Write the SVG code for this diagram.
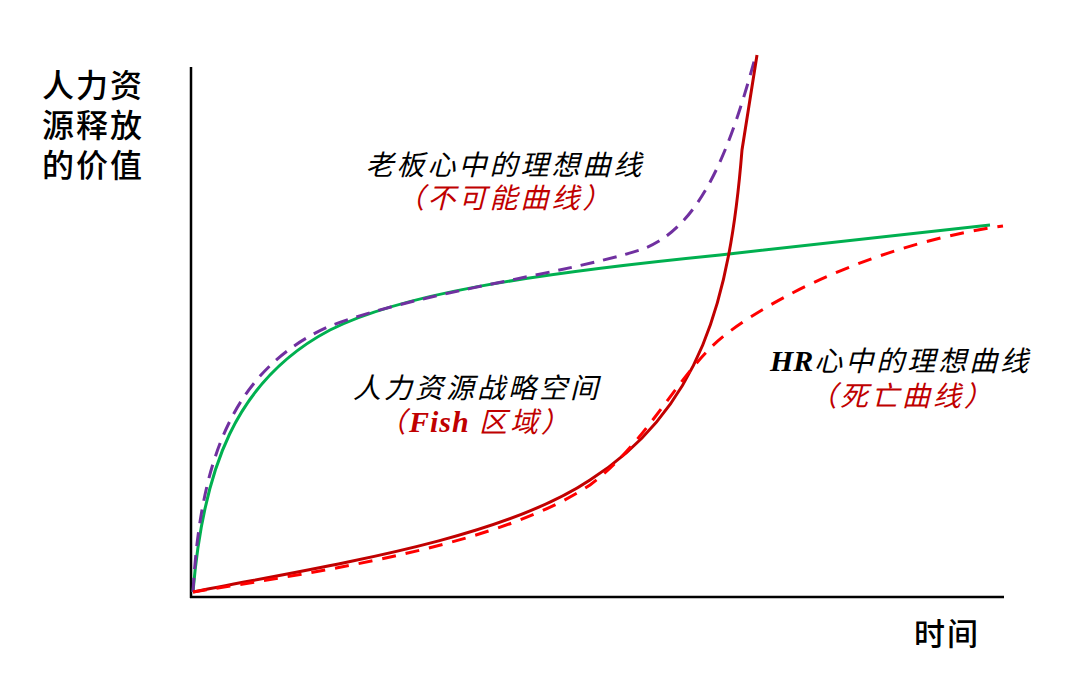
<svg xmlns="http://www.w3.org/2000/svg" width="1080" height="699" viewBox="0 0 1080 699">
<style>
.cjk{font-family:"Noto Sans CJK SC","Noto Sans CJK JP",sans-serif;}
.lbl{font-size:28px;font-style:italic;letter-spacing:3px;}
.blk{fill:#000;}
.red{fill:#C00000;}
.lat{font-family:"Liberation Serif",serif;font-weight:bold;font-style:italic;}
.c{fill:none;stroke-width:3;stroke-linecap:butt;}
</style>
<rect width="1080" height="699" fill="#fff"/>
<g id="axes" stroke="#000" stroke-width="2.5" fill="none">
<line x1="191" y1="67" x2="191" y2="598"/>
<line x1="190" y1="597" x2="1004" y2="597"/>
</g>
<g id="connectors">
<path id="green" class="c" stroke="#00B050" d="M193,592 C203,470 235,380 330,330 C400,295 520,275 720,255 L990,225"/>
<path id="purple" class="c" stroke="#7030A0" stroke-dasharray="14,9" d="M193,592 C200,465 230,370 330,326 C420,292 560,275 640,250 C700,230 730,150 755,58"/>
<path id="redsolid" class="c" stroke="#C00000" d="M193,592 C330,565 500,540 590,480 C700,410 730,300 742,150 L757,55"/>
<path id="reddash" class="c" stroke="#FF0000" stroke-dasharray="14,10" d="M193,592 C330,570 500,545 590,485 C650,440 680,370 725,335 C790,285 900,240 1003,226"/>
</g>
<g id="ylabel" class="cjk blk" font-size="32" font-weight="500">
<text x="42" y="97" letter-spacing="2">人力资</text>
<text x="42" y="137" letter-spacing="2">源释放</text>
<text x="42" y="177" letter-spacing="2">的价值</text>
</g>
<g id="xlabel" class="cjk blk" font-size="31" font-weight="500">
<text x="914" y="645" letter-spacing="2">时间</text>
</g>
<g id="boss">
<text class="cjk lbl blk" x="505" y="175" text-anchor="middle">老板心中的理想曲线</text>
<text class="cjk lbl red" x="505" y="208" text-anchor="middle">（不可能曲线）</text>
</g>
<g id="fish">
<text class="cjk lbl blk" x="477" y="398" text-anchor="middle">人力资源战略空间</text>
<text class="cjk lbl red" x="475" y="432" text-anchor="middle">（<tspan class="lat" font-size="30" letter-spacing="1">Fish</tspan> 区域）</text>
</g>
<g id="hr">
<text class="cjk lbl blk" x="770" y="371"><tspan class="lat" font-size="30" letter-spacing="0">HR</tspan><tspan dx="1">心中的理想曲线</tspan></text>
<text class="cjk lbl red" x="902" y="406" text-anchor="middle">（死亡曲线）</text>
</g>
</svg>
